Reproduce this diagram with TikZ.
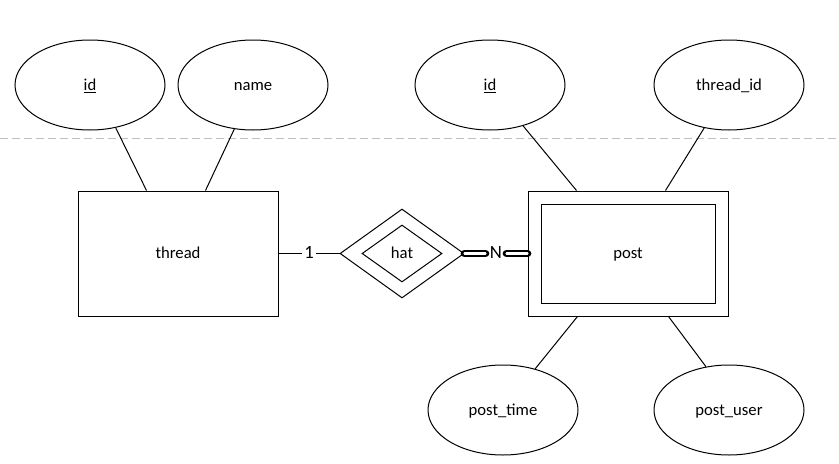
\documentclass[tikz,border=0pt]{standalone}
\usepackage{fontspec}
\setmainfont{Carlito}
\usetikzlibrary{shapes.geometric}

\begin{document}
\begin{tikzpicture}[x=0.75pt,y=-0.75pt,line width=0.75pt,font=\fontsize{12.5}{15}\selectfont,
  lbl/.style={text height=0.78em,text depth=0pt},
  attr/.style={draw,ellipse,lbl,minimum width=112.5pt,minimum height=67.5pt,inner sep=0pt},
  entity/.style={draw,rectangle,lbl,minimum width=150pt,minimum height=93.75pt,inner sep=0pt},
  weakbox/.style={draw,rectangle,lbl,minimum width=130.5pt,minimum height=74.25pt,inner sep=0pt},
  rel/.style={draw,diamond,lbl,inner sep=0pt},
  card/.style={lbl,inner xsep=3pt,inner ysep=0pt,font=\fontsize{14}{16}\selectfont},
  dbl/.style={double,line width=2.1pt,double distance=1.6pt,line cap=round}]
  \useasboundingbox (0,0) rectangle (839,464);
  \draw[black!25,dash pattern=on 6pt off 3pt] (0,138) -- (839,138);

  \node[attr] (tid) at (90,85) {\underline{id}};
  \node[attr] (tname) at (253,85) {name};
  \node[attr] (pid) at (490,85) {\underline{id}};
  \node[attr] (pthread) at (729,85) {thread\_id};
  \node[attr] (ptime) at (503,410) {post\_time};
  \node[attr] (puser) at (729,410) {post\_user};

  \node[entity] (thread) at (178,253.5) {thread};
  \node[entity] (post) at (628,253.5) {};
  \node[weakbox] (postin) at (628,253.5) {post};

  \node[rel,minimum width=93pt,minimum height=66.75pt] (hat) at (402,253.5) {};
  \node[rel,minimum width=60pt,minimum height=42.75pt] (hatin) at (402,253.5) {hat};

  \node[card,inner xsep=1pt] (one) at (309,253.5) {1};
  \node[card] (n) at (496,253.5) {N};

  \draw (tid.-59) -- ([xshift=51.75pt]thread.north west);
  \draw (tname.-113) -- ([xshift=96pt]thread.north west);
  \draw (pid.-51) -- ([xshift=36.75pt]post.north west);
  \draw (pthread.-120) -- ([xshift=103.5pt]post.north west);
  \draw (ptime.52) -- ([xshift=37.5pt]post.south west);
  \draw (puser.118) -- ([xshift=105.75pt]post.south west);

  \draw (thread.east) -- (one.west);
  \draw (one.east) -- (hat.west);
  \draw[dbl] (hat.east) -- (n.west);
  \draw[dbl] (n.east) -- (post.west);
\end{tikzpicture}
\end{document}
